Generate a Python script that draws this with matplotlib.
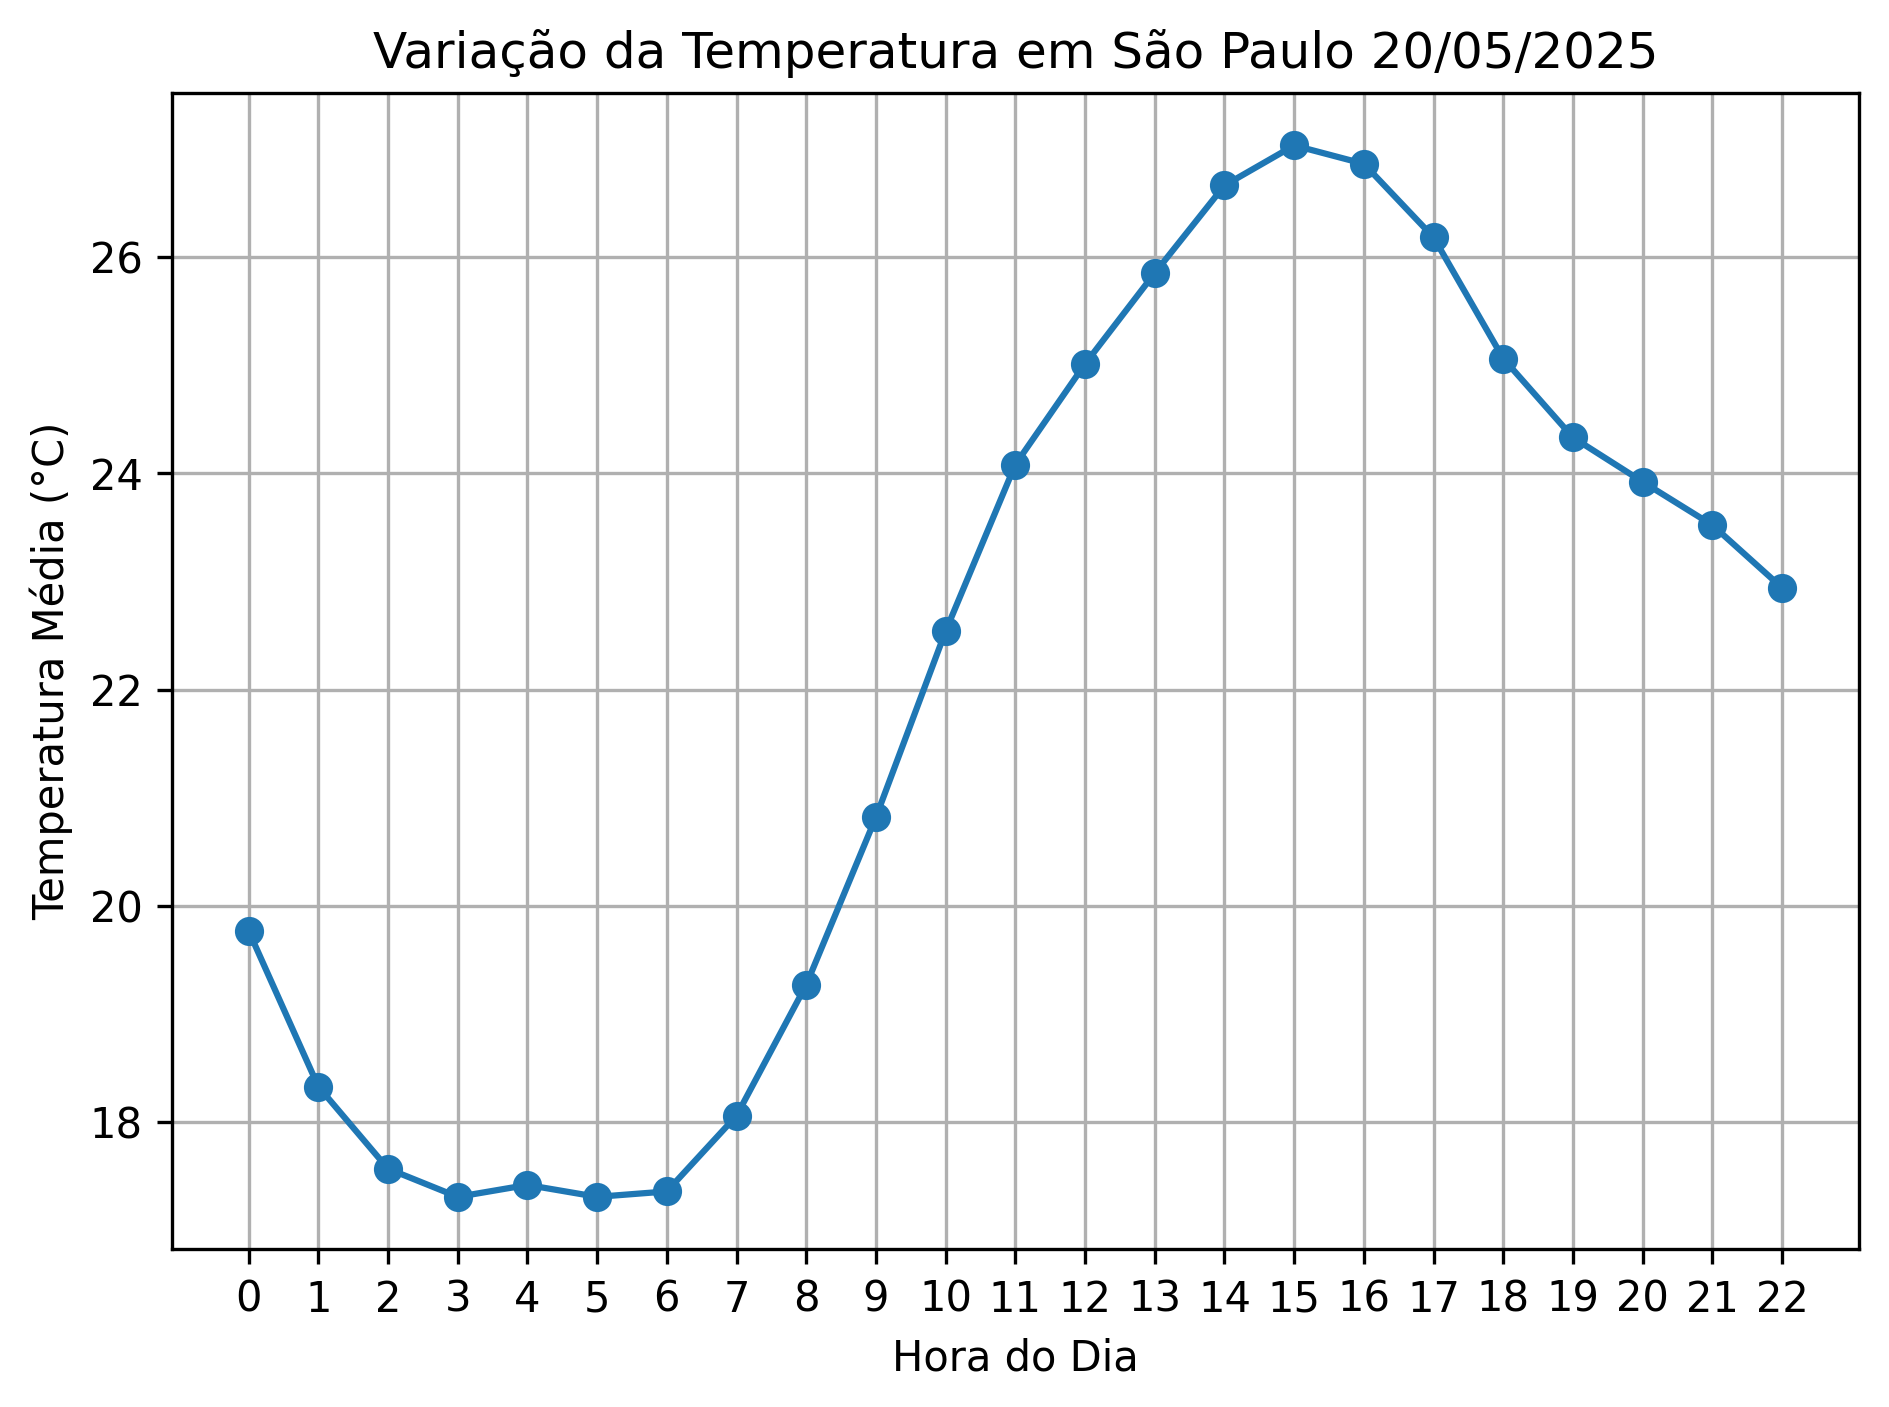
import matplotlib
matplotlib.use("Agg")
import matplotlib.pyplot as plt

hours = list(range(23))
temps = [19.77, 18.33, 17.57, 17.31, 17.42, 17.31, 17.36, 18.06, 19.27, 20.82,
         22.54, 24.08, 25.01, 25.85, 26.66, 27.03, 26.86, 26.18, 25.06, 24.33,
         23.92, 23.52, 22.94]

fig, ax = plt.subplots(figsize=(1889/300, 1407/300), dpi=300)
ax.plot(hours, temps, marker='o', color='#1f77b4')
ax.set_title('Variação da Temperatura em São Paulo 20/05/2025')
ax.set_xlabel('Hora do Dia')
ax.set_ylabel('Temperatura Média (°C)')
ax.set_xticks(hours)
ax.grid(True)
fig.subplots_adjust(left=0.091, right=0.984, top=0.934, bottom=0.112)
fig.savefig('out.png', dpi=300)
